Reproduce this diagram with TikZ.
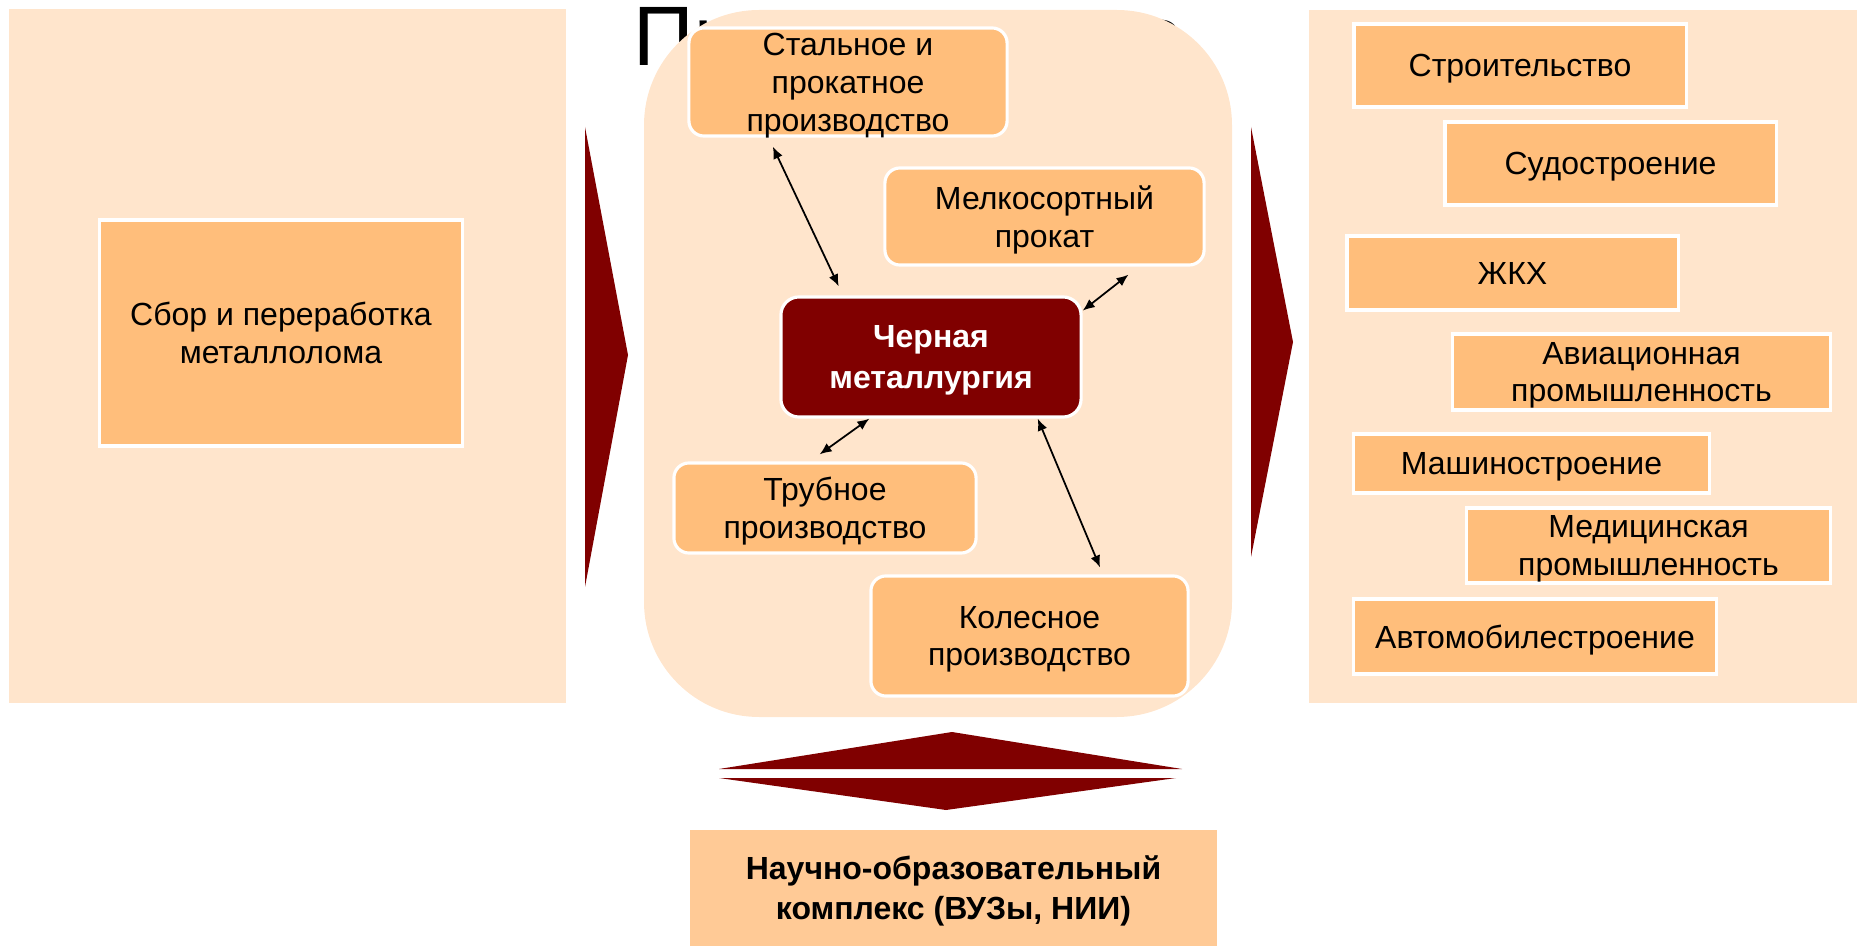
\documentclass[tikz,border=0pt]{standalone}
\usepackage{fontspec}
\setmainfont{Liberation Sans}
\usetikzlibrary{arrows.meta}
\definecolor{panel}{HTML}{FFE5CC}
\definecolor{boxor}{HTML}{FFBE7B}
\definecolor{boxlt}{HTML}{FFCA96}
\definecolor{dred}{HTML}{800000}
\tikzset{
  box/.style={draw=white, line width=0.9pt, fill=boxor, align=center, inner sep=0pt,
    font=\fontsize{9.1}{10.8}\selectfont, text=black, text depth=0pt},
  rbox/.style={box, rounded corners=0.15cm},
  boldtext/.style={font=\fontsize{9.1}{11.4}\selectfont\bfseries},
  link/.style={{Latex[length=1.2mm,width=1mm]}-{Latex[length=1.2mm,width=1mm]}, line width=0.5pt, black},
  chevron/.style={fill=dred, draw=none},
}
\begin{document}
\begin{tikzpicture}[x=0.01cm,y=-0.01cm]
\useasboundingbox (0,0) rectangle (1857,946);
% title partly hidden
\node[anchor=base west, inner sep=0pt, font=\fontsize{24}{28}\selectfont] (title) at (633,66) {Производство};
% panels
\fill[panel] (9,9) rectangle (566,703);
\fill[panel, rounded corners=1.15cm] (644,10) rectangle (1232,717);
\fill[panel] (1309,10) rectangle (1857,703);
% chevrons
\fill[chevron] (585,127) -- (628,355) -- (585,587) -- cycle;
\fill[chevron] (1251,127) -- (1293,342) -- (1251,557) -- cycle;
\fill[chevron] (719,769) -- (952,732) -- (1182,769) -- cycle;
\fill[chevron] (719,778) -- (946,810) -- (1176,778) -- cycle;
% left
\node[box, minimum width=3.62cm, minimum height=2.26cm] (scrap) at (281,333) {Сбор и переработка\\металлолома};
% center
\node[rbox, minimum width=3.18cm, minimum height=1.08cm] (stal) at (848,82) {Стальное и\\прокатное\\производство};
\node[rbox, minimum width=3.19cm, minimum height=0.97cm] (melk) at (1044.5,216.5) {Мелкосортный\\прокат};
\node[rbox, fill=dred, text=white, rounded corners=0.18cm, minimum width=3.00cm, minimum height=1.20cm,
  boldtext] (chm) at (931,357) {Черная\\металлургия};
\node[rbox, minimum width=3.02cm, minimum height=0.90cm] (trub) at (825,508) {Трубное\\производство};
\node[rbox, minimum width=3.17cm, minimum height=1.20cm] (koles) at (1029.5,636) {Колесное\\производство};
% right
\node[box, minimum width=3.32cm, minimum height=0.83cm] (stroit) at (1520,65.5) {Строительство};
\node[box, minimum width=3.31cm, minimum height=0.83cm] (sudo) at (1610.5,163.5) {Судостроение};
\node[box, minimum width=3.31cm, minimum height=0.74cm] (zhkh) at (1512.5,273) {ЖКХ};
\node[box, minimum width=3.77cm, minimum height=0.76cm] (avia) at (1641.5,372) {Авиационная\\промышленность};
\node[box, minimum width=3.55cm, minimum height=0.59cm] (mash) at (1531.5,463.5) {Машиностроение};
\node[box, minimum width=3.63cm, minimum height=0.75cm] (med) at (1648.5,545.5) {Медицинская\\промышленность};
\node[box, minimum width=3.62cm, minimum height=0.75cm] (avto) at (1535,636.5) {Автомобилестроение};
% bottom
\node[box, draw=none, fill=boxlt, minimum width=5.27cm, minimum height=1.16cm,
  boldtext] (nauka) at (953.5,888) {Научно-образовательный\\комплекс (ВУЗы, НИИ)};
% links
\draw[link, shorten <=0.1cm, shorten >=0.1cm] (stal.215.7) -- (chm.145.4);
\draw[link, shorten <=0.13cm] (melk.332.6) -- (chm.17.8);
\draw[link, shorten >=0.12cm] (chm.225) -- (trub.108.9);
\draw[link, shorten >=0.075cm] (chm.330.3) -- (koles.40.6);
\end{tikzpicture}
\end{document}
